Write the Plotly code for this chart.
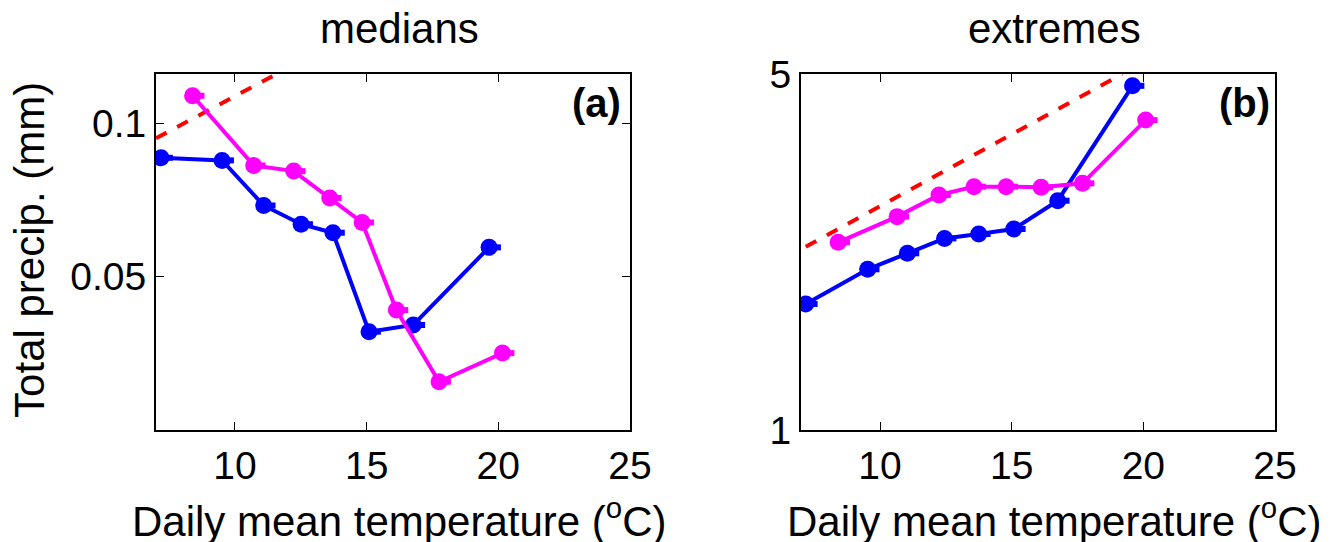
import plotly.graph_objs as go

# panel (a) medians
med_blue_x = [7.19, 9.51, 11.09, 12.51, 13.72, 15.09, 16.77, 19.65]
med_blue_y = [0.0856, 0.0846, 0.0690, 0.0634, 0.0610, 0.0390, 0.0402, 0.0571]
med_mag_x = [8.39, 10.71, 12.23, 13.60, 14.83, 16.13, 17.75, 20.16]
med_mag_y = [0.1133, 0.0827, 0.0806, 0.0714, 0.0639, 0.0430, 0.0311, 0.0354]
med_ref_x = [7.0, 11.6]
med_ref_y = [0.0935, 0.1252]

# panel (b) extremes
ext_blue_x = [7.18, 9.53, 11.04, 12.45, 13.75, 15.08, 16.75, 19.59]
ext_blue_y = [1.768, 2.068, 2.223, 2.378, 2.426, 2.481, 2.82, 4.74]
ext_mag_x = [8.41, 10.65, 12.24, 13.57, 14.79, 16.12, 17.69, 20.09]
ext_mag_y = [2.336, 2.624, 2.894, 3.005, 3.005, 2.996, 3.05, 4.06]
ext_ref_x = [7.18, 19.2]
ext_ref_y = [2.291, 5.0]

FONT = "Liberation Sans, Arial, sans-serif"
BLUE = "#0000ff"
MAG = "#ff00ff"


def series(x, y, color, xa, ya):
    return go.Scatter(
        x=x, y=y, xaxis=xa, yaxis=ya, mode="lines+markers",
        line=dict(color=color, width=4),
        marker=dict(color=color, size=17),
        error_x=dict(type="data", array=[0.45] * len(x), arrayminus=[0.25] * len(x),
                     color=color, thickness=6, width=0),
        showlegend=False,
    )


def ref(x, y, xa, ya):
    return go.Scatter(x=x, y=y, xaxis=xa, yaxis=ya, mode="lines",
                      line=dict(color="#ff0000", width=4, dash="dash"),
                      showlegend=False)


fig = go.Figure([
    ref(med_ref_x, med_ref_y, "x", "y"),
    series(med_blue_x, med_blue_y, BLUE, "x", "y"),
    series(med_mag_x, med_mag_y, MAG, "x", "y"),
    ref(ext_ref_x, ext_ref_y, "x2", "y2"),
    series(ext_blue_x, ext_blue_y, BLUE, "x2", "y2"),
    series(ext_mag_x, ext_mag_y, MAG, "x2", "y2"),
])

ax = dict(showline=True, linecolor="black", linewidth=2, mirror="ticks",
          ticks="inside", ticklen=8, tickcolor="black", showgrid=False,
          zeroline=False, automargin=False,
          tickfont=dict(size=39, color="black", family=FONT))
xt = "Daily mean temperature (<sup>o</sup>C)"
TS = 42


def note(text, x, y, size=TS, **kw):
    return dict(text=text, x=x, y=y, xref="paper", yref="paper", showarrow=False,
                xanchor=kw.pop("xanchor", "center"), yanchor="middle",
                font=dict(size=size), **kw)


fig.update_layout(
    width=1325, height=534, margin=dict(l=0, r=0, t=0, b=0),
    plot_bgcolor="white", paper_bgcolor="white",
    font=dict(family=FONT, color="black"),
    xaxis=dict(ax, domain=[0.1117, 0.4694], range=[7, 25], tickvals=[10, 15, 20, 25]),
    yaxis=dict(ax, domain=[0.2097, 0.8764], type="log",
               range=[-1.602, -0.903], tickvals=[0.05, 0.1], ticktext=["0.05", "0.1"]),
    xaxis2=dict(ax, anchor="y2", domain=[0.5985, 0.9562], range=[7, 25], tickvals=[10, 15, 20, 25]),
    yaxis2=dict(ax, anchor="x2", domain=[0.2097, 0.8764], type="log",
                range=[0, 0.699], tickvals=[1, 5], ticktext=["1", "5"]),
    annotations=[
        note("medians", 0.2958, 0.9625),
        note("extremes", 0.790, 0.9625),
        note(xt, 0.2958, 0.045),
        note(xt, 0.790, 0.045),
        note("Total precip. (mm)", 0.0166, 0.547, textangle=-90),
        note("<b>(a)</b>", 0.464, 0.822, size=40, xanchor="right"),
        note("<b>(b)</b>", 0.954, 0.822, size=40, xanchor="right"),
    ],
)

fig.write_html("out.html")
